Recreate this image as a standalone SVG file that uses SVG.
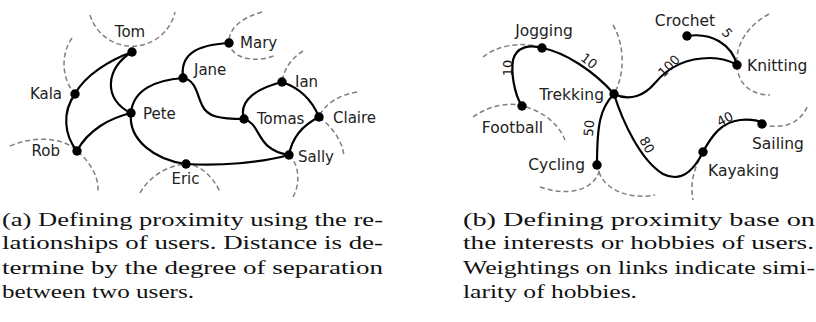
<svg xmlns="http://www.w3.org/2000/svg" width="816" height="322" viewBox="0 0 816 322">
<style>
.edge{fill:none;stroke:#000;stroke-width:2.2}
.dash{fill:none;stroke:#808080;stroke-width:1.5;stroke-dasharray:5 3}
.dot{fill:#000}
.lbl{font-family:"DejaVu Sans",Verdana,sans-serif;font-size:15px;fill:#222}
.rl{font-family:"DejaVu Sans",Verdana,sans-serif;font-size:15.5px;fill:#222}
.w{font-family:"DejaVu Sans",Verdana,sans-serif;font-size:13px;fill:#111;text-anchor:middle}
.cap{font-family:"Liberation Serif","Times New Roman",serif;font-size:19.5px;fill:#111}
</style>
<rect width="816" height="322" fill="#fff"/>

<g id="dashed-arcs">
<path class="dash" d="M90,15 A44,44 0 0 0 175,12"/>
<path class="dash" d="M72,38 C60,55 62,80 75,94"/>
<path class="dash" d="M10,146 C35,135 65,138 77,151 C88,160 99,175 98,191"/>
<path class="dash" d="M140,193 C150,175 170,165 186,164 C200,165 212,175 220,192"/>
<path class="dash" d="M289,155 C300,165 300,185 293,197"/>
<path class="dash" d="M357,92 C340,95 325,103 319,117 C330,125 343,140 344,157"/>
<path class="dash" d="M303,51 C292,58 284,68 282,82"/>
<path class="dash" d="M262,12 C240,18 228,30 229,43 C232,60 258,63 276,55"/>
<path class="dash" d="M483,57 C495,47 520,40 542,48"/>
<path class="dash" d="M473,117 C490,105 510,102 522,106 C540,110 558,122 565,140"/>
<path class="dash" d="M613,25 C625,45 625,75 614,94"/>
<path class="dash" d="M540,187 C565,196 592,192 599,172 L597,165"/>
<path class="dash" d="M599,172 C605,190 630,200 655,195"/>
<path class="dash" d="M769,14 C748,25 735,45 737,65 C738,85 752,95 770,95"/>
<path class="dash" d="M762,124 C780,130 800,125 808,105"/>
<path class="dash" d="M703,152 C693,170 690,185 693,200"/>
</g>

<g id="connectors">
<path class="edge" d="M132,52 C110,60 85,75 75,94"/>
<path class="edge" d="M75,94 C62,112 64,135 77,151"/>
<path class="edge" d="M132,52 C105,68 103,100 131,113"/>
<path class="edge" d="M77,151 C88,130 110,118 131,113"/>
<path class="edge" d="M131,113 C133,90 155,80 183,78"/>
<path class="edge" d="M131,113 C128,140 155,160 186,164"/>
<path class="edge" d="M186,164 C220,166 260,163 289,155"/>
<path class="edge" d="M183,78 C180,55 195,45 229,43"/>
<path class="edge" d="M183,78 C196,80 197,95 202,105 C207,117 220,119 244,119"/>
<path class="edge" d="M244,119 C238,100 258,88 282,82"/>
<path class="edge" d="M244,119 C262,124 255,150 289,155"/>
<path class="edge" d="M282,82 C300,88 312,100 319,117"/>
<path class="edge" d="M319,117 C303,125 292,138 289,155"/>

<path class="edge" d="M522,106 C514,94 511,72 513,60 C516,47 530,44 542,48"/>
<path class="edge" d="M542,48 C565,52 595,72 614,94"/>
<path class="edge" d="M614,94 C630,102 645,95 655,83 C670,65 690,58 710,58 C722,58 732,62 737,65"/>
<path class="edge" d="M687,36 C712,32 732,45 737,65"/>
<path class="edge" d="M614,94 C600,108 597,125 597,165"/>
<path class="edge" d="M614,94 C622,120 640,160 663,174 C683,184 695,168 703,152"/>
<path class="edge" d="M703,152 C712,135 722,122 740,120 C750,119 757,120 763,123"/>

<text class="w" transform="translate(507,68) rotate(-90)" y="4.5">10</text>
<text class="w" transform="translate(589,61) rotate(38)" y="4.5">10</text>
<text class="w" transform="translate(669,66) rotate(-45)" y="4.5">100</text>
<text class="w" transform="translate(727,33) rotate(50)" y="4.5">5</text>
<text class="w" transform="translate(589,128) rotate(-85)" y="4.5">50</text>
<text class="w" transform="translate(647,145) rotate(60)" y="4.5">80</text>
<text class="w" transform="translate(725,119) rotate(-28)" y="4.5">40</text>
</g>

<g id="Tom"><circle class="dot" cx="132" cy="52" r="4.7"/><text class="lbl" x="130" y="37" text-anchor="middle">Tom</text></g>
<g id="Kala"><circle class="dot" cx="75" cy="94" r="4.7"/><text class="lbl" x="62" y="99" text-anchor="end">Kala</text></g>
<g id="Rob"><circle class="dot" cx="77" cy="151" r="4.7"/><text class="lbl" x="60" y="156" text-anchor="end">Rob</text></g>
<g id="Pete"><circle class="dot" cx="131" cy="113" r="4.7"/><text class="lbl" x="143" y="119">Pete</text></g>
<g id="Jane"><circle class="dot" cx="183" cy="78" r="4.7"/><text class="lbl" x="194" y="75">Jane</text></g>
<g id="Mary"><circle class="dot" cx="229" cy="43" r="4.7"/><text class="lbl" x="240" y="48">Mary</text></g>
<g id="Ian"><circle class="dot" cx="282" cy="82" r="4.7"/><text class="lbl" x="295" y="87">Ian</text></g>
<g id="Tomas"><circle class="dot" cx="244" cy="119" r="4.7"/><text class="lbl" x="257" y="124">Tomas</text></g>
<g id="Claire"><circle class="dot" cx="319" cy="117" r="4.7"/><text class="lbl" x="333" y="123">Claire</text></g>
<g id="Sally"><circle class="dot" cx="289" cy="155" r="4.7"/><text class="lbl" x="298" y="162">Sally</text></g>
<g id="Eric"><circle class="dot" cx="186" cy="164" r="4.7"/><text class="lbl" x="185.5" y="184" text-anchor="middle">Eric</text></g>

<g id="Jogging"><circle class="dot" cx="542" cy="48" r="4.7"/><text class="rl" x="544" y="36" text-anchor="middle">Jogging</text></g>
<g id="Football"><circle class="dot" cx="522" cy="106" r="4.7"/><text class="rl" x="512.5" y="133" text-anchor="middle">Football</text></g>
<g id="Trekking"><circle class="dot" cx="614" cy="94" r="4.7"/><text class="rl" x="604" y="100" text-anchor="end">Trekking</text></g>
<g id="Crochet"><circle class="dot" cx="687" cy="36" r="4.7"/><text class="rl" x="685" y="25.5" text-anchor="middle">Crochet</text></g>
<g id="Knitting"><circle class="dot" cx="737" cy="65" r="4.7"/><text class="rl" x="747" y="70.5">Knitting</text></g>
<g id="Cycling"><circle class="dot" cx="597" cy="165" r="4.7"/><text class="rl" x="585" y="170" text-anchor="end">Cycling</text></g>
<g id="Kayaking"><circle class="dot" cx="703" cy="152" r="4.7"/><text class="rl" x="708" y="176">Kayaking</text></g>
<g id="Sailing"><circle class="dot" cx="762" cy="124" r="4.7"/><text class="rl" x="752" y="149">Sailing</text></g>

<g id="caption-a" class="cap">
<text x="2" y="225.5" textLength="381" lengthAdjust="spacingAndGlyphs">(a) Defining proximity using the re-</text>
<text x="2" y="249" textLength="381" lengthAdjust="spacingAndGlyphs">lationships of users. Distance is de-</text>
<text x="2" y="273.5" textLength="381" lengthAdjust="spacingAndGlyphs">termine by the degree of separation</text>
<text x="2" y="297.5" textLength="192" lengthAdjust="spacingAndGlyphs">between two users.</text>
</g>
<g id="caption-b" class="cap">
<text x="463" y="225.5" textLength="352" lengthAdjust="spacingAndGlyphs">(b) Defining proximity base on</text>
<text x="463" y="249" textLength="351" lengthAdjust="spacingAndGlyphs">the interests or hobbies of users.</text>
<text x="463" y="273.5" textLength="352" lengthAdjust="spacingAndGlyphs">Weightings on links indicate simi-</text>
<text x="463" y="297.5" textLength="174" lengthAdjust="spacingAndGlyphs">larity of hobbies.</text>
</g>
</svg>
